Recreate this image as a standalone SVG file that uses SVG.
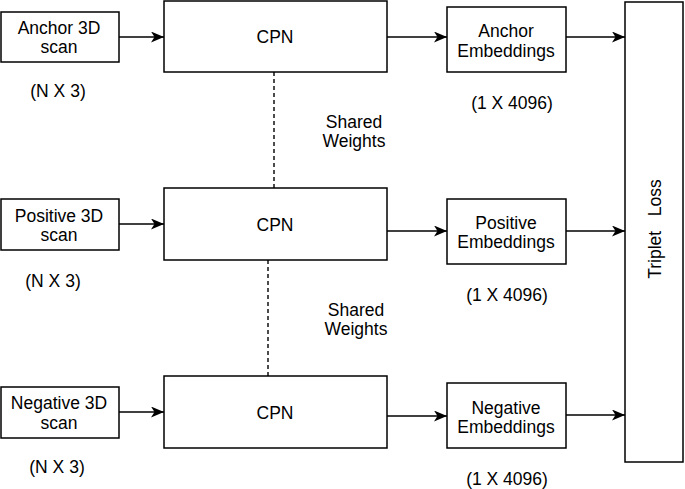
<svg xmlns="http://www.w3.org/2000/svg" width="685" height="489" viewBox="0 0 685 489">
<defs>
<style>
.box{fill:#fff;stroke:#000;stroke-width:1.5}
.t{font-family:"Liberation Sans",Arial,sans-serif;font-size:17.5px;fill:#000;text-anchor:middle}
.c{stroke:#000;stroke-width:1.4;fill:none}
.d{stroke:#000;stroke-width:1.4;fill:none;stroke-dasharray:4 3}
</style>
<marker id="ah" viewBox="0 0 13 11" refX="13" refY="5.5" markerWidth="13" markerHeight="11" markerUnits="userSpaceOnUse" orient="auto">
<path d="M0,0 L13,5.5 L0,11 L3.5,5.5 z" fill="#000"/>
</marker>
</defs>
<rect width="685" height="489" fill="#fff"/>
<g id="connectors">
<line class="c" x1="119" y1="37" x2="164" y2="37" marker-end="url(#ah)"/>
<line class="c" x1="387" y1="37" x2="447" y2="37" marker-end="url(#ah)"/>
<line class="c" x1="566" y1="37" x2="625" y2="37" marker-end="url(#ah)"/>
<line class="c" x1="119" y1="224" x2="164" y2="224" marker-end="url(#ah)"/>
<line class="c" x1="387" y1="231" x2="447" y2="231" marker-end="url(#ah)"/>
<line class="c" x1="566" y1="231" x2="625" y2="231" marker-end="url(#ah)"/>
<line class="c" x1="119" y1="412" x2="164" y2="412" marker-end="url(#ah)"/>
<line class="c" x1="387" y1="416" x2="447" y2="416" marker-end="url(#ah)"/>
<line class="c" x1="566" y1="415" x2="625" y2="415" marker-end="url(#ah)"/>
<line class="d" x1="274" y1="72" x2="274" y2="188"/>
<line class="d" x1="268" y1="260" x2="268" y2="376"/>
</g>
<g id="anchor-scan">
<rect class="box" x="1" y="12" width="118" height="50"/>
<text class="t" x="59" y="34">Anchor 3D</text>
<text class="t" x="59" y="53">scan</text>
<text class="t" x="58" y="97">(N X 3)</text>
</g>
<g id="cpn1">
<rect class="box" x="164" y="1" width="223" height="71"/>
<text class="t" x="275" y="43">CPN</text>
</g>
<g id="anchor-emb">
<rect class="box" x="447" y="7" width="119" height="65"/>
<text class="t" x="506" y="37">Anchor</text>
<text class="t" x="506" y="57">Embeddings</text>
<text class="t" x="512" y="109">(1 X 4096)</text>
</g>
<g id="shared1">
<text class="t" x="354" y="128">Shared</text>
<text class="t" x="354" y="147">Weights</text>
</g>
<g id="positive-scan">
<rect class="box" x="1" y="199" width="118" height="51"/>
<text class="t" x="59" y="222">Positive 3D</text>
<text class="t" x="59" y="241">scan</text>
<text class="t" x="53" y="287">(N X 3)</text>
</g>
<g id="cpn2">
<rect class="box" x="164" y="188" width="223" height="72"/>
<text class="t" x="275" y="231">CPN</text>
</g>
<g id="positive-emb">
<rect class="box" x="447" y="199" width="119" height="65"/>
<text class="t" x="506" y="229">Positive</text>
<text class="t" x="506" y="248">Embeddings</text>
<text class="t" x="507" y="301">(1 X 4096)</text>
</g>
<g id="shared2">
<text class="t" x="356" y="316">Shared</text>
<text class="t" x="356" y="335">Weights</text>
</g>
<g id="negative-scan">
<rect class="box" x="1" y="387" width="118" height="51"/>
<text class="t" x="59" y="409">Negative 3D</text>
<text class="t" x="59" y="429">scan</text>
<text class="t" x="57" y="473">(N X 3)</text>
</g>
<g id="cpn3">
<rect class="box" x="164" y="376" width="223" height="72"/>
<text class="t" x="275" y="419">CPN</text>
</g>
<g id="negative-emb">
<rect class="box" x="447" y="383" width="119" height="65"/>
<text class="t" x="506" y="414">Negative</text>
<text class="t" x="506" y="433">Embeddings</text>
<text class="t" x="507" y="485">(1 X 4096)</text>
</g>
<g id="triplet-loss">
<rect class="box" x="625" y="2" width="58" height="460"/>
<text class="t" transform="translate(661,229) rotate(-90)" xml:space="preserve">Triplet   Loss</text>
</g>
</svg>
